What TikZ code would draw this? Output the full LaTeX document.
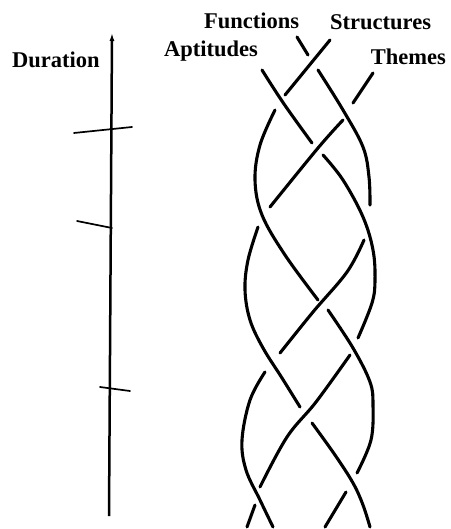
\documentclass[tikz,border=0pt]{standalone}
\usepackage{fontspec}
\setmainfont{Liberation Serif}
\usetikzlibrary{arrows.meta}
\begin{document}
\begin{tikzpicture}[x=1pt,y=-1pt,
  strand/.style={line width=3.1pt,line cap=round},
  lbl/.style={font=\fontsize{22.5}{25}\selectfont\bfseries,inner sep=0pt,anchor=base west},
  axisline/.style={line width=2.5pt,-{Latex[length=8pt,width=5pt]}},
  tickmark/.style={line width=1.7pt,line cap=round}]
\useasboundingbox (0,0) rectangle (450,529);

% labels
\node[lbl] (dur) at (12,68) {Duration};
\node[lbl] (fun) at (204,29) {Functions};
\node[lbl] (str) at (330,30) {Structures};
\node[lbl] (apt) at (164,57) {Aptitudes};
\node[lbl,anchor=base east] (the) at (446,65) {Themes};

% duration axis
\coordinate (axb) at (109,516);
\coordinate (axt) at (112,33);
\draw[axisline] (axb) -- (axt);
\draw[tickmark] (74,133) -- (132,127);
\draw[tickmark] (77,221) -- (112,228);
\draw[tickmark] (100,387) -- (130,391);

% Functions strand
\draw[strand] (297,37) -- (308,55);
\draw[strand] plot[smooth,tension=0.6] coordinates {(318,70) (343,110) (363,147) (369,177) (370,205)};
\draw[strand] plot[smooth,tension=0.6] coordinates {(364,240) (347,272) (313,312) (280,353)};
\draw[strand] plot[smooth,tension=0.6] coordinates {(265,372) (250,400) (242,440) (246,470) (260,500) (273,527)};

% Aptitudes strand
\draw[strand] plot[smooth,tension=0.6] coordinates {(262,70) (284,104) (312,143)};
\draw[strand] plot[smooth,tension=0.6] coordinates {(323,155) (343,180) (363,217) (373,250) (375,280) (372,303) (358,338)};
\draw[strand] plot[smooth,tension=0.6] coordinates {(350,355) (316,402) (287,437) (260,487)};
\draw[strand] (255,505) -- (247,527);

% Structures strand
\draw[strand] (330,40) -- (285,95);
\draw[strand] plot[smooth,tension=0.6] coordinates {(275,110) (260,145) (255,180) (262,215) (285,255) (318,300)};
\draw[strand] plot[smooth,tension=0.6] coordinates {(328,310) (353,348) (370,382) (373,405) (371,440) (357,473)};
\draw[strand] (346,492) -- (325,527);

% Themes strand
\draw[strand] (373,73) -- (353,103);
\draw[strand] plot[smooth,tension=0.6] coordinates {(343,120) (318,148) (270,207)};
\draw[strand] plot[smooth,tension=0.6] coordinates {(258,227) (248,260) (245,290) (250,320) (263,348) (282,378) (300,407)};
\draw[strand] plot[smooth,tension=0.6] coordinates {(312,423) (335,455) (353,483) (363,505) (370,527)};
\end{tikzpicture}
\end{document}
